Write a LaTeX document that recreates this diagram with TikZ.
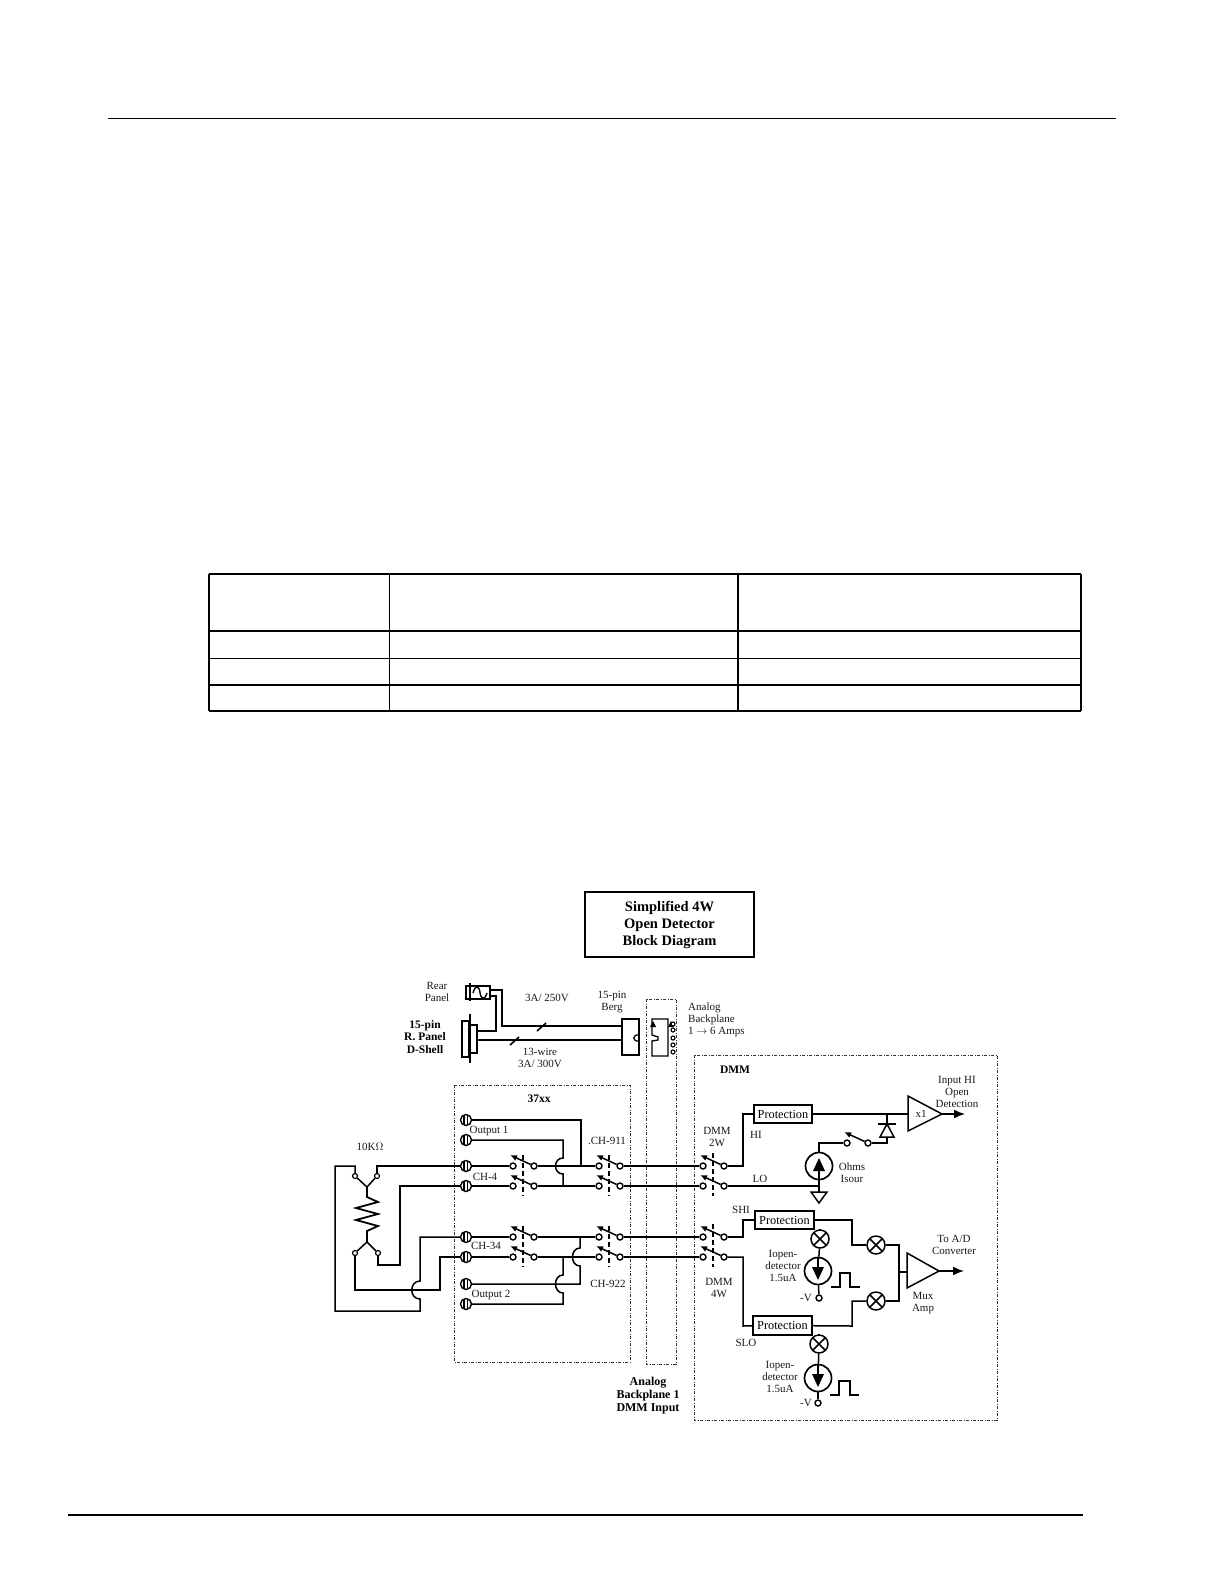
\documentclass[tikz,border=0pt]{standalone}
\usepackage{fontspec}
\setmainfont{Liberation Serif}
\usetikzlibrary{arrows.meta,calc}
\tikzset{
  wire/.style={line width=1.5pt,black,line join=miter},
  box/.style={draw,line width=1.5pt,inner sep=0pt,fill=white},
  zone/.style={draw=black!80,line width=.9pt,dash pattern=on 3pt off 1.5pt on 1pt off 1.5pt},
  lbl/.style={font=\fontsize{11}{12}\selectfont,text=black!90,inner sep=0pt,align=center},
  blbl/.style={font=\fontsize{11.5}{12.6}\selectfont\bfseries,text=black,inner sep=0pt,align=center},
  prot/.style={font=\fontsize{12.3}{13}\selectfont,text=black},
  contact/.style={circle,draw,line width=1.4pt,fill=white,minimum size=6pt,inner sep=0pt},
  termc/.style={circle,draw,line width=1.4pt,fill=white,minimum size=11pt,inner sep=0pt},
  link/.style={line width=1.4pt,dash pattern=on 5pt off 3pt},
  blade/.style={line width=1.5pt,-{Latex[length=7pt,width=6pt]}},
  xcirc/.style={circle,draw,line width=1.5pt,fill=white,minimum size=18pt,inner sep=0pt,
    path picture={\draw[line width=1.5pt] (path picture bounding box.north west)--(path picture bounding box.south east)
      (path picture bounding box.north east)--(path picture bounding box.south west);}},
  srccirc/.style={circle,draw,line width=1.7pt,fill=white,minimum size=27pt,inner sep=0pt},
  tablethick/.style={line width=2.2pt},
  tablethin/.style={line width=1pt},
  bigarrow/.style={line width=1.5pt,-{Latex[length=11pt,width=9pt]}},
}
\newcommand\term[3]{\node[termc] (#1) at (#2,#3) {};
  \draw[line width=1.5pt] (#2-1.8,#3-5)--(#2-1.8,#3+5) (#2+1.3,#3-5.2)--(#2+1.3,#3+5.2);}
\newcommand\swt[3]{\node[contact] (#1l) at (#2,#3) {};
  \node[contact] (#1r) at (#2+21,#3) {};
  \coordinate (#1t) at (#2-3,#3-11);
  \draw[blade] (#1r) -- (#1t);}
\begin{document}
\begin{tikzpicture}[x=1pt,y=-1pt]
\useasboundingbox (0,0) rectangle (1224,1584);
\fill[white] (0,0) rectangle (1224,1584);
% page rules
\draw[line width=1.3pt] (108,118.5) -- (1116,118.5);
\draw[line width=2pt] (68,1515) -- (1083,1515);
% table
\draw[tablethick] (209,574) -- (1081,574) (209,631) -- (1081,631) (209,685) -- (1081,685) (209,711) -- (1081,711);
\draw[tablethin] (209,658) -- (1081,658);
\draw[line width=1.6pt] (209,574) -- (209,711);
\draw[line width=.8pt] (389,574) -- (389,711);
\draw[line width=1.4pt] (738,574) -- (738,711) (1081,574) -- (1081,711);
% title
\node[draw,line width=1.6pt,minimum width=169pt,minimum height=65pt,inner sep=0pt] (title) at (669.5,924.5) {};
\node[font=\fontsize{14.5}{17}\selectfont\bfseries,text=black,align=center,inner sep=0pt] (titletext) at (669.5,925) {Simplified 4W\\Open Detector\\Block Diagram};
% zones
\draw[zone] (454,1085) rectangle (630,1362);
\draw[zone] (646,999) rectangle (676,1364);
\draw[zone] (694,1055) rectangle (997,1420);
% rear panel
\node[box,minimum width=24pt,minimum height=13pt] (fuse) at (478,992.5) {};
\draw[line width=1.4pt] (470,983) -- (470,1001);
\draw[line width=1.4pt] (473,993) .. controls (475,985) and (479,985) .. (480,992.5) .. controls (481,1000) and (485,1000) .. (487,993);
\node[box,minimum width=7pt,minimum height=36pt] (shellA) at (465.5,1039) {};
\node[box,minimum width=8pt,minimum height=28pt] (shellB) at (473,1039) {};
\draw[line width=1.5pt] (470,1014) -- (470,1063);
\node[box,line width=1.3pt,minimum width=17pt,minimum height=36pt] (berg) at (630.5,1037) {};
\draw[line width=1.3pt] (639,1035) .. controls (632,1034) and (632,1042) .. (639,1041);
\coordinate (f1) at (fuse.east |- 0,990);
\coordinate (f2) at (fuse.east |- 0,996);
\draw[wire] (f1) -- (502,990) -- (502,1026) -- (berg.west |- 0,1026);
\draw[wire] (f2) -- (496,996) -- (496,1031) -- (shellB.east |- 0,1031);
\draw[wire] (shellB.east |- 0,1040) -- (berg.west |- 0,1040);
\draw[line width=1.6pt] (537,1031) -- (546,1023) (510,1045) -- (519,1037);
% analog backplane relay
\draw[line width=1.3pt] (652,1019) -- (652,1035) -- (658,1037) -- (658,1040) -- (652,1041) -- (652,1056) -- (668,1056) -- (668,1019) -- cycle;
\fill (653,1021) -- (656,1027) -- (650,1027) -- cycle;
\fill (671,1021) -- (674,1027) -- (668,1027) -- cycle;
\foreach \n/\yy in {a/1024,b/1030,c/1038,d/1045,e/1052}
  \node[contact,line width=1.1pt,minimum size=4pt] (rel\n) at (673,\yy) {};
% terminals
\term{t1}{466}{1120}\term{t2}{466}{1140}\term{t3}{466}{1166}\term{t4}{466}{1186}
\term{t5}{466}{1237}\term{t6}{466}{1257}\term{t7}{466}{1284}\term{t8}{466}{1304}
% switches
\swt{a}{513}{1166}\swt{b}{513}{1186}\swt{c}{513}{1237}\swt{d}{513}{1257}
\swt{e}{599}{1166}\swt{f}{599}{1186}\swt{g}{599}{1237}\swt{h}{599}{1257}
\swt{i}{703}{1166}\swt{j}{703}{1186}\swt{k}{703}{1237}\swt{m}{703}{1257}
\draw[link] (523,1155) -- (523,1196) (609,1155) -- (609,1196)
            (523,1226) -- (523,1267) (609,1226) -- (609,1267)
            (713,1153) -- (713,1196) (713,1224) -- (713,1267);
% row wires
\draw[wire] (t3) -- (al);
\draw[wire] (ar) -- (el);
\draw[wire] (t4) -- (bl);
\draw[wire] (br) -- (fl);
\draw[wire] (t5) -- (cl);
\draw[wire] (cr) -- (gl);
\draw[wire] (t6) -- (dl);
\draw[wire] (dr) -- (hl);
\draw[wire] (er) -- (il);
\draw[wire] (fr) -- (jl);
\draw[wire] (gr) -- (kl);
\draw[wire] (hr) -- (ml);
% output wires
\draw[wire] (t1) -- (581,1120) -- (581,1166);
\draw[wire] (t2) -- (563,1140) -- (563,1158) .. controls (553,1158) and (553,1174) .. (563,1174) -- (563,1186);
\draw[wire] (t7) -- (580,1284) -- (580,1266) .. controls (570,1266) and (570,1248) .. (580,1248) -- (580,1237);
\draw[wire] (t8) -- (563,1304) -- (563,1293) .. controls (553,1293) and (553,1275) .. (563,1275) -- (563,1257);
% resistor
\node[contact,line width=1.2pt,minimum size=5pt] (r1) at (355,1176) {};
\node[contact,line width=1.2pt,minimum size=5pt] (r2) at (377,1176) {};
\node[contact,line width=1.2pt,minimum size=5pt] (r3) at (355,1253) {};
\node[contact,line width=1.2pt,minimum size=5pt] (r4) at (378,1253) {};
\coordinate (rt) at (367,1187);
\coordinate (rb) at (367,1242);
\draw[wire] (r1) -- (rt);
\draw[wire] (r2) -- (rt);
\draw[wire] (r3) -- (rb);
\draw[wire] (r4) -- (rb);
\draw[wire,line width=1.8pt] (rt) -- (367,1197) -- (378,1202) -- (356,1208) -- (378,1214) -- (356,1220) -- (378,1226) -- (367,1231) -- (rb);
\draw[wire] (r2) -- (377,1166) -- (t3);
\draw[wire] (r1) -- (355,1166) -- (335,1166) -- (335,1311) -- (420,1311) -- (420,1299) .. controls (409,1299) and (409,1281) .. (420,1281) -- (420,1237) -- (t5);
\draw[wire] (r4) -- (378,1265) -- (400,1265) -- (400,1186) -- (t4);
\draw[wire] (r3) -- (355,1290) -- (440,1290) -- (440,1257) -- (t6);
% DMM top
\node[box,prot,minimum width=58pt,minimum height=18pt] (p1) at (783,1114) {Protection};
\draw[wire] (ir) -- (743,1166) -- (743,1114) -- (p1);
\coordinate (amp1in) at (908,1114);
\coordinate (amp1out) at (942,1114);
\coordinate (amp1end) at (965,1114);
\draw[wire] (p1) -- (amp1in);
\draw[bigarrow] (amp1out) -- (amp1end);
\draw[line width=1.5pt,fill=white] (908,1096) -- (942,1114) -- (908,1131) -- cycle;
\node[lbl] (x1) at (921,1114) {x1};
\swt{n}{847}{1143}
\draw[wire] (887,1114) -- (887,1124);
\draw[line width=1.5pt] (878,1124) -- (896,1124);
\draw[line width=1.5pt] (887,1124) -- (894,1137) -- (880,1137) -- cycle;
\draw[wire] (887,1137) -- (887,1143) -- (nr);
\node[srccirc] (s0) at (819,1166) {};
\fill (819,1158) -- (825,1171) -- (813,1171) -- cycle;
\draw[line width=1.5pt] (819,1170) -- (819,1179);
\draw[wire] (nl) -- (819,1143) -- (s0);
\draw[wire] (jr) -- (819,1186);
\coordinate (gndc) at (819,1192);
\draw[wire] (s0) -- (gndc);
\draw[line width=1.5pt] (811,1192) -- (827,1192) -- (819,1203) -- cycle;
% DMM middle
\node[box,prot,minimum width=59pt,minimum height=18pt] (p2) at (784.5,1220) {Protection};
\node[box,prot,minimum width=59pt,minimum height=19pt] (p3) at (782.5,1325.5) {Protection};
\draw[wire] (kr) -- (743,1237) -- (743,1220) -- (p2);
\draw[wire] (mr) -- (743,1257) -- (743,1326) -- (p3);
\node[xcirc] (x1a) at (820,1239) {};
\node[srccirc] (s1) at (818,1271) {};
\fill (818,1280) -- (824,1267) -- (812,1267) -- cycle;
\draw[line width=1.5pt] (818,1258) -- (818,1268);
\node[contact] (v1) at (819,1298) {};
\draw[wire] (p2.south -| x1a) -- (x1a);
\draw[wire] (x1a) -- (s1);
\draw[wire] (s1) -- (v1);
\node[xcirc] (xt) at (876,1245) {};
\node[xcirc] (xb) at (876,1301) {};
\draw[wire] (p2) -- (852,1220) -- (852,1245) -- (xt);
\draw[wire] (p3) -- (852,1326) -- (852,1301) -- (xb);
\draw[wire] (xt) -- (899,1245) -- (899,1301) -- (xb);
\coordinate (bus) at (899,1272);
\coordinate (amp2in) at (907,1272);
\coordinate (amp2out) at (939,1271);
\coordinate (amp2end) at (964,1271);
\draw[wire] (bus) -- (amp2in);
\draw[bigarrow] (amp2out) -- (amp2end);
\draw[line width=1.5pt,fill=white] (907,1253) -- (939,1271) -- (907,1288) -- cycle;
% pulses
\draw[line width=1.4pt] (831,1287) -- (840,1287) -- (840,1273) -- (850,1273) -- (850,1287) -- (860,1287);
\draw[line width=1.4pt] (830,1395) -- (839,1395) -- (839,1381) -- (850,1381) -- (850,1395) -- (859,1395);
% DMM bottom
\node[xcirc] (x2a) at (819,1344) {};
\node[srccirc] (s2) at (818,1378) {};
\fill (818,1387) -- (824,1374) -- (812,1374) -- cycle;
\draw[line width=1.5pt] (818,1365) -- (818,1375);
\node[contact] (v2) at (818,1403) {};
\draw[wire] (p3.south -| x2a) -- (x2a);
\draw[wire] (x2a) -- (s2);
\draw[wire] (s2) -- (v2);
% labels
\node[lbl] (l1) at (437,992) {Rear\\Panel};
\node[blbl] (l2) at (425,1037) {15-pin\\R. Panel\\D-Shell};
\node[lbl] (l3) at (547,998) {3A/ 250V};
\node[lbl] (l4) at (612,1002) {15-pin\\Berg};
\node[lbl] (l5) at (540,1058) {13-wire\\3A/ 300V};
\node[lbl,align=left,anchor=west] (l6) at (688,1020) {Analog\\Backplane\\1 $\rightarrow$ 6 Amps};
\node[blbl] (l7) at (539,1099) {37xx};
\node[blbl] (l8) at (735,1070) {DMM};
\node[lbl] (l9) at (370,1147) {10K$\Omega$};
\node[lbl] (l10) at (489,1131) {Output 1};
\node[lbl] (l11) at (607,1141) {.CH-911};
\node[lbl] (l12) at (485,1177) {CH-4};
\node[lbl] (l13) at (486,1246) {CH-34};
\node[lbl] (l14) at (608,1284) {CH-922};
\node[lbl] (l15) at (491,1295) {Output 2};
\node[lbl] (l16) at (717,1137) {DMM\\2W};
\node[lbl] (l17) at (756,1135) {HI};
\node[lbl] (l18) at (760,1179) {LO};
\node[lbl] (l19) at (741,1210) {SHI};
\node[lbl] (l20) at (852,1173) {Ohms\\Isour};
\node[lbl] (l21) at (957,1092) {Input HI\\Open\\Detection};
\node[lbl] (l22) at (783,1266) {Iopen-\\detector\\1.5uA};
\node[lbl] (l23) at (780,1377) {Iopen-\\detector\\1.5uA};
\node[lbl] (l24) at (806,1298) {-V};
\node[lbl] (l25) at (806,1403) {-V};
\node[lbl] (l26) at (954,1245) {To A/D\\Converter};
\node[lbl] (l27) at (923,1303) {Mux\\Amp};
\node[lbl] (l28) at (719,1288) {DMM\\4W};
\node[lbl] (l29) at (746,1343) {SLO};
\node[blbl,font=\fontsize{12}{13.4}\selectfont\bfseries] (l30) at (648,1395.5) {Analog\\Backplane 1\\DMM Input};
\end{tikzpicture}
\end{document}
